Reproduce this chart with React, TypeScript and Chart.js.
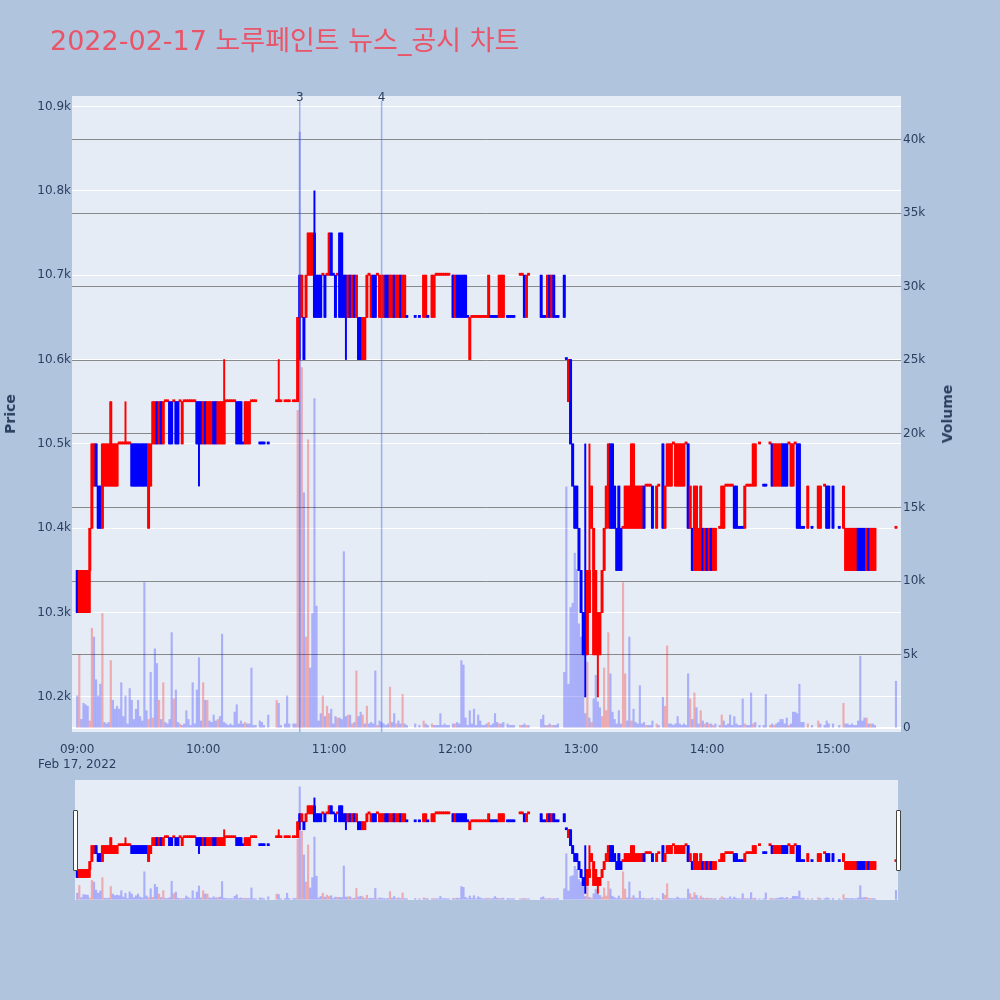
import React, { useEffect, useRef } from 'react';
import Chart from 'chart.js/auto';

type Row = [string, number, number, number, number, number]; // time, open, high, low, close, volume

const TITLE = '2022-02-17 노루페인트 뉴스_공시 차트';
const PRICE_TITLE = 'Price';
const VOLUME_TITLE = 'Volume';
const DATE_LABEL = 'Feb 17, 2022';

const SESSION_0900: Row[] = [
  ['09:00', 10350, 10350, 10300, 10300, 2200],
  ['09:01', 10300, 10350, 10300, 10350, 5000],
  ['09:02', 10300, 10350, 10300, 10350, 600],
  ['09:03', 10300, 10350, 10300, 10350, 1700],
  ['09:04', 10300, 10350, 10300, 10350, 1600],
  ['09:05', 10300, 10350, 10300, 10350, 1500],
  ['09:06', 10350, 10400, 10300, 10400, 500],
  ['09:07', 10400, 10500, 10400, 10500, 6800],
  ['09:08', 10450, 10500, 10450, 10500, 6200],
  ['09:09', 10500, 10500, 10450, 10450, 3300],
  ['09:10', 10450, 10450, 10400, 10400, 2200],
  ['09:11', 10450, 10450, 10400, 10400, 3000],
  ['09:12', 10400, 10500, 10400, 10500, 7800],
  ['09:13', 10450, 10500, 10450, 10500, 400],
  ['09:14', 10450, 10500, 10450, 10500, 300],
  ['09:15', 10450, 10500, 10450, 10500, 400],
  ['09:16', 10450, 10550, 10450, 10550, 4600],
  ['09:17', 10450, 10500, 10450, 10500, 1900],
  ['09:18', 10450, 10500, 10450, 10500, 1300],
  ['09:19', 10450, 10500, 10450, 10500, 1500],
  ['09:20', 10500, 10500, 10500, 10500, 1300],
  ['09:21', 10500, 10500, 10500, 10500, 3100],
  ['09:22', 10500, 10500, 10500, 10500, 800],
  ['09:23', 10500, 10550, 10500, 10500, 2200],
  ['09:24', 10500, 10500, 10500, 10500, 300],
  ['09:25', 10500, 10500, 10500, 10500, 2700],
  ['09:26', 10500, 10500, 10450, 10450, 1900],
  ['09:27', 10500, 10500, 10450, 10450, 600],
  ['09:28', 10500, 10500, 10450, 10450, 1300],
  ['09:29', 10500, 10500, 10450, 10450, 1900],
  ['09:30', 10500, 10500, 10450, 10450, 800],
  ['09:31', 10500, 10500, 10450, 10450, 500],
  ['09:32', 10500, 10500, 10450, 10450, 9900],
  ['09:33', 10500, 10500, 10450, 10450, 1200],
  ['09:34', 10400, 10500, 10400, 10500, 600],
  ['09:35', 10450, 10500, 10450, 10500, 3800],
  ['09:36', 10500, 10550, 10500, 10550, 700],
  ['09:37', 10500, 10550, 10500, 10550, 5400],
  ['09:38', 10550, 10550, 10500, 10500, 4400],
  ['09:39', 10500, 10550, 10500, 10550, 1900],
  ['09:40', 10550, 10550, 10500, 10500, 600],
  ['09:41', 10500, 10550, 10500, 10550, 3100],
  ['09:42', 10550, 10550, 10550, 10550, 400],
  ['09:43', 10550, 10550, 10550, 10550, 300],
  ['09:44', 10550, 10550, 10500, 10500, 600],
  ['09:45', 10550, 10550, 10500, 10500, 6500],
  ['09:46', 10550, 10550, 10550, 10550, 2000],
  ['09:47', 10550, 10550, 10500, 10500, 2600],
  ['09:48', 10550, 10550, 10500, 10500, 400],
  ['09:49', 10550, 10550, 10550, 10550, 300],
  ['09:50', 10500, 10550, 10500, 10550, 200],
  ['09:51', 10550, 10550, 10550, 10550, 300],
  ['09:52', 10550, 10550, 10550, 10550, 1200],
  ['09:53', 10550, 10550, 10550, 10550, 600],
  ['09:54', 10550, 10550, 10550, 10550, 200],
  ['09:55', 10550, 10550, 10550, 10550, 3100],
  ['09:56', 10550, 10550, 10550, 10550, 300],
  ['09:57', 10550, 10550, 10500, 10500, 2600],
  ['09:58', 10550, 10550, 10450, 10500, 4800],
  ['09:59', 10550, 10550, 10500, 10500, 500],
];

const SESSION_1000: Row[] = [
  ['10:00', 10500, 10550, 10500, 10550, 3100],
  ['10:01', 10550, 10550, 10500, 10500, 1900],
  ['10:02', 10500, 10550, 10500, 10550, 1900],
  ['10:03', 10500, 10550, 10500, 10550, 500],
  ['10:04', 10500, 10550, 10500, 10550, 400],
  ['10:05', 10550, 10550, 10500, 10500, 900],
  ['10:06', 10550, 10550, 10500, 10500, 500],
  ['10:07', 10500, 10550, 10500, 10550, 600],
  ['10:08', 10500, 10550, 10500, 10550, 800],
  ['10:09', 10500, 10550, 10500, 10550, 6400],
  ['10:10', 10500, 10600, 10500, 10550, 400],
  ['10:11', 10550, 10550, 10550, 10550, 300],
  ['10:12', 10550, 10550, 10550, 10550, 200],
  ['10:13', 10550, 10550, 10550, 10550, 300],
  ['10:14', 10550, 10550, 10550, 10550, 200],
  ['10:15', 10550, 10550, 10550, 10550, 1100],
  ['10:16', 10550, 10550, 10500, 10500, 1600],
  ['10:17', 10550, 10550, 10500, 10500, 300],
  ['10:18', 10550, 10550, 10500, 10500, 500],
  ['10:19', 10500, 10500, 10500, 10500, 300],
  ['10:20', 10500, 10550, 10500, 10550, 400],
  ['10:21', 10500, 10550, 10500, 10550, 300],
  ['10:22', 10500, 10550, 10500, 10550, 300],
  ['10:23', 10550, 10550, 10550, 10550, 4100],
  ['10:24', 10550, 10550, 10550, 10550, 200],
  ['10:25', 10550, 10550, 10550, 10550, 200],
  ['10:27', 10500, 10500, 10500, 10500, 500],
  ['10:28', 10500, 10500, 10500, 10500, 400],
  ['10:29', 10500, 10500, 10500, 10500, 200],
  ['10:31', 10500, 10500, 10500, 10500, 900],
  ['10:35', 10550, 10550, 10550, 10550, 1900],
  ['10:36', 10550, 10600, 10550, 10550, 1700],
  ['10:37', 10550, 10550, 10550, 10550, 200],
  ['10:39', 10550, 10550, 10550, 10550, 300],
  ['10:40', 10550, 10550, 10550, 10550, 2200],
  ['10:41', 10550, 10550, 10550, 10550, 300],
  ['10:43', 10550, 10550, 10550, 10550, 300],
  ['10:44', 10550, 10550, 10550, 10550, 300],
  ['10:45', 10550, 10650, 10550, 10650, 21600],
  ['10:46', 10700, 10700, 10600, 10650, 40500],
  ['10:47', 10650, 10700, 10650, 10700, 24500],
  ['10:48', 10650, 10650, 10600, 10600, 16000],
  ['10:49', 10650, 10700, 10650, 10700, 6200],
  ['10:50', 10700, 10750, 10700, 10750, 19600],
  ['10:51', 10700, 10750, 10700, 10750, 4100],
  ['10:52', 10700, 10750, 10700, 10750, 7800],
  ['10:53', 10750, 10800, 10650, 10650, 22400],
  ['10:54', 10700, 10700, 10650, 10650, 8300],
  ['10:55', 10700, 10700, 10650, 10650, 500],
  ['10:56', 10700, 10700, 10650, 10650, 1000],
  ['10:57', 10700, 10700, 10700, 10700, 2200],
  ['10:58', 10700, 10700, 10650, 10650, 800],
  ['10:59', 10700, 10700, 10700, 10700, 1500],
];

const SESSION_1100: Row[] = [
  ['11:00', 10700, 10750, 10700, 10750, 1000],
  ['11:01', 10750, 10750, 10700, 10700, 1300],
  ['11:02', 10700, 10700, 10700, 10700, 300],
  ['11:03', 10700, 10700, 10650, 10650, 800],
  ['11:04', 10700, 10700, 10700, 10700, 700],
  ['11:05', 10750, 10750, 10650, 10650, 700],
  ['11:06', 10750, 10750, 10650, 10650, 600],
  ['11:07', 10700, 10700, 10650, 10650, 12000],
  ['11:08', 10700, 10700, 10600, 10650, 800],
  ['11:09', 10650, 10700, 10650, 10700, 900],
  ['11:10', 10700, 10700, 10650, 10650, 900],
  ['11:11', 10650, 10700, 10650, 10700, 300],
  ['11:12', 10700, 10700, 10650, 10650, 400],
  ['11:13', 10650, 10700, 10650, 10700, 3900],
  ['11:14', 10650, 10650, 10600, 10600, 800],
  ['11:15', 10650, 10650, 10600, 10600, 1100],
  ['11:16', 10600, 10650, 10600, 10650, 900],
  ['11:17', 10600, 10650, 10600, 10650, 300],
  ['11:18', 10650, 10700, 10650, 10700, 1500],
  ['11:19', 10700, 10700, 10700, 10700, 300],
  ['11:20', 10650, 10700, 10650, 10700, 400],
  ['11:21', 10700, 10700, 10650, 10650, 300],
  ['11:22', 10700, 10700, 10650, 10650, 3900],
  ['11:23', 10700, 10700, 10700, 10700, 200],
  ['11:24', 10650, 10700, 10650, 10700, 500],
  ['11:25', 10650, 10700, 10650, 10700, 400],
  ['11:26', 10650, 10700, 10650, 10700, 300],
  ['11:27', 10700, 10700, 10650, 10650, 200],
  ['11:28', 10700, 10700, 10650, 10650, 300],
  ['11:29', 10650, 10700, 10650, 10700, 2800],
  ['11:30', 10650, 10700, 10650, 10700, 400],
  ['11:31', 10700, 10700, 10650, 10650, 1000],
  ['11:32', 10650, 10700, 10650, 10700, 300],
  ['11:33', 10650, 10700, 10650, 10700, 500],
  ['11:34', 10700, 10700, 10650, 10650, 300],
  ['11:35', 10650, 10700, 10650, 10700, 2300],
  ['11:36', 10650, 10700, 10650, 10700, 300],
  ['11:37', 10650, 10650, 10650, 10650, 200],
  ['11:41', 10650, 10650, 10650, 10650, 300],
  ['11:43', 10650, 10650, 10650, 10650, 200],
  ['11:45', 10650, 10700, 10650, 10700, 500],
  ['11:46', 10650, 10700, 10650, 10700, 300],
  ['11:47', 10650, 10650, 10650, 10650, 200],
  ['11:49', 10650, 10700, 10650, 10700, 300],
  ['11:50', 10650, 10700, 10650, 10700, 200],
  ['11:51', 10700, 10700, 10700, 10700, 200],
  ['11:52', 10700, 10700, 10700, 10700, 200],
  ['11:53', 10700, 10700, 10700, 10700, 1000],
  ['11:54', 10700, 10700, 10700, 10700, 200],
  ['11:55', 10700, 10700, 10700, 10700, 300],
  ['11:56', 10700, 10700, 10700, 10700, 200],
  ['11:57', 10700, 10700, 10700, 10700, 200],
  ['11:59', 10700, 10700, 10650, 10650, 300],
];

const SESSION_1200: Row[] = [
  ['12:00', 10650, 10700, 10650, 10700, 300],
  ['12:01', 10700, 10700, 10650, 10650, 400],
  ['12:02', 10700, 10700, 10650, 10650, 300],
  ['12:03', 10700, 10700, 10650, 10650, 4600],
  ['12:04', 10700, 10700, 10650, 10650, 4300],
  ['12:05', 10700, 10700, 10650, 10650, 700],
  ['12:06', 10650, 10650, 10650, 10650, 200],
  ['12:07', 10600, 10650, 10600, 10650, 1200],
  ['12:08', 10650, 10650, 10650, 10650, 300],
  ['12:09', 10650, 10650, 10650, 10650, 1300],
  ['12:10', 10650, 10650, 10650, 10650, 200],
  ['12:11', 10650, 10650, 10650, 10650, 900],
  ['12:12', 10650, 10650, 10650, 10650, 500],
  ['12:13', 10650, 10650, 10650, 10650, 200],
  ['12:14', 10650, 10650, 10650, 10650, 200],
  ['12:15', 10650, 10650, 10650, 10650, 300],
  ['12:16', 10650, 10700, 10650, 10700, 400],
  ['12:17', 10650, 10650, 10650, 10650, 200],
  ['12:18', 10650, 10650, 10650, 10650, 300],
  ['12:19', 10650, 10650, 10650, 10650, 1000],
  ['12:20', 10650, 10650, 10650, 10650, 400],
  ['12:21', 10650, 10700, 10650, 10700, 300],
  ['12:22', 10650, 10700, 10650, 10700, 300],
  ['12:23', 10650, 10700, 10650, 10700, 400],
  ['12:25', 10650, 10650, 10650, 10650, 300],
  ['12:26', 10650, 10650, 10650, 10650, 200],
  ['12:27', 10650, 10650, 10650, 10650, 200],
  ['12:28', 10650, 10650, 10650, 10650, 200],
  ['12:31', 10700, 10700, 10700, 10700, 200],
  ['12:32', 10700, 10700, 10700, 10700, 200],
  ['12:33', 10700, 10700, 10650, 10650, 300],
  ['12:34', 10650, 10700, 10650, 10700, 200],
  ['12:35', 10700, 10700, 10700, 10700, 200],
  ['12:41', 10700, 10700, 10650, 10650, 600],
  ['12:42', 10650, 10650, 10650, 10650, 900],
  ['12:43', 10650, 10650, 10650, 10650, 200],
  ['12:44', 10650, 10700, 10650, 10700, 200],
  ['12:45', 10700, 10700, 10650, 10650, 300],
  ['12:46', 10650, 10700, 10650, 10700, 200],
  ['12:47', 10700, 10700, 10650, 10650, 200],
  ['12:48', 10650, 10650, 10650, 10650, 200],
  ['12:49', 10650, 10650, 10650, 10650, 300],
  ['12:52', 10700, 10700, 10650, 10650, 3800],
  ['12:53', 10600, 10600, 10600, 10600, 16400],
  ['12:54', 10550, 10600, 10550, 10600, 3000],
  ['12:55', 10600, 10600, 10500, 10500, 8200],
  ['12:56', 10500, 10500, 10450, 10450, 8500],
  ['12:57', 10450, 10450, 10400, 10400, 11900],
  ['12:58', 10450, 10450, 10400, 10400, 10800],
  ['12:59', 10400, 10400, 10350, 10350, 7100],
];

const SESSION_1300: Row[] = [
  ['13:00', 10350, 10350, 10300, 10300, 6200],
  ['13:01', 10300, 10300, 10250, 10250, 5000],
  ['13:02', 10300, 10500, 10200, 10250, 1000],
  ['13:03', 10250, 10350, 10250, 10350, 4500],
  ['13:04', 10300, 10500, 10300, 10350, 700],
  ['13:05', 10400, 10450, 10400, 10450, 400],
  ['13:06', 10250, 10400, 10250, 10400, 2000],
  ['13:07', 10250, 10350, 10250, 10350, 3600],
  ['13:08', 10250, 10300, 10200, 10300, 1800],
  ['13:09', 10250, 10300, 10250, 10300, 1400],
  ['13:10', 10300, 10350, 10300, 10350, 800],
  ['13:11', 10350, 10400, 10350, 10400, 4100],
  ['13:12', 10400, 10450, 10400, 10450, 1200],
  ['13:13', 10450, 10500, 10400, 10500, 6500],
  ['13:14', 10500, 10500, 10400, 10400, 3700],
  ['13:15', 10500, 10500, 10400, 10400, 1100],
  ['13:16', 10450, 10450, 10400, 10400, 600],
  ['13:17', 10400, 10400, 10350, 10350, 300],
  ['13:18', 10450, 10450, 10350, 10350, 1200],
  ['13:19', 10400, 10400, 10350, 10350, 300],
  ['13:20', 10400, 10400, 10400, 10400, 9900],
  ['13:21', 10400, 10450, 10400, 10450, 3700],
  ['13:22', 10400, 10450, 10400, 10450, 500],
  ['13:23', 10400, 10450, 10400, 10450, 6200],
  ['13:24', 10400, 10500, 10400, 10500, 500],
  ['13:25', 10400, 10500, 10400, 10500, 1300],
  ['13:26', 10400, 10450, 10400, 10450, 400],
  ['13:27', 10400, 10450, 10400, 10450, 300],
  ['13:28', 10400, 10450, 10400, 10450, 2900],
  ['13:29', 10400, 10450, 10400, 10450, 300],
  ['13:30', 10450, 10450, 10400, 10400, 400],
  ['13:31', 10450, 10450, 10450, 10450, 200],
  ['13:32', 10450, 10450, 10450, 10450, 200],
  ['13:33', 10450, 10450, 10450, 10450, 200],
  ['13:34', 10450, 10450, 10400, 10400, 500],
  ['13:36', 10400, 10450, 10400, 10450, 300],
  ['13:37', 10450, 10450, 10450, 10450, 200],
  ['13:39', 10500, 10500, 10400, 10400, 2100],
  ['13:40', 10400, 10450, 10400, 10450, 1500],
  ['13:41', 10450, 10500, 10450, 10500, 5600],
  ['13:42', 10450, 10500, 10450, 10500, 300],
  ['13:43', 10450, 10500, 10450, 10500, 300],
  ['13:44', 10500, 10500, 10500, 10500, 200],
  ['13:45', 10450, 10500, 10450, 10500, 300],
  ['13:46', 10450, 10500, 10450, 10500, 800],
  ['13:47', 10450, 10500, 10450, 10500, 300],
  ['13:48', 10450, 10500, 10450, 10500, 200],
  ['13:49', 10450, 10500, 10450, 10500, 300],
  ['13:50', 10500, 10500, 10500, 10500, 200],
  ['13:51', 10500, 10500, 10400, 10400, 3700],
  ['13:52', 10400, 10450, 10400, 10450, 2000],
  ['13:53', 10400, 10400, 10350, 10350, 600],
  ['13:54', 10350, 10450, 10350, 10450, 2400],
  ['13:55', 10350, 10450, 10350, 10450, 1400],
  ['13:56', 10350, 10400, 10350, 10400, 300],
  ['13:57', 10350, 10450, 10350, 10450, 1200],
  ['13:58', 10400, 10400, 10350, 10350, 500],
  ['13:59', 10350, 10400, 10350, 10400, 300],
];

const SESSION_1400: Row[] = [
  ['14:00', 10400, 10400, 10350, 10350, 400],
  ['14:01', 10350, 10400, 10350, 10400, 300],
  ['14:02', 10400, 10400, 10350, 10350, 300],
  ['14:03', 10350, 10400, 10350, 10400, 200],
  ['14:04', 10350, 10400, 10350, 10400, 300],
  ['14:06', 10400, 10400, 10400, 10400, 200],
  ['14:07', 10400, 10450, 10400, 10450, 900],
  ['14:08', 10400, 10450, 10400, 10450, 500],
  ['14:09', 10450, 10450, 10450, 10450, 200],
  ['14:10', 10450, 10450, 10450, 10450, 300],
  ['14:11', 10450, 10450, 10450, 10450, 900],
  ['14:12', 10450, 10450, 10450, 10450, 200],
  ['14:13', 10450, 10450, 10400, 10400, 800],
  ['14:14', 10450, 10450, 10400, 10400, 300],
  ['14:15', 10400, 10400, 10400, 10400, 200],
  ['14:16', 10400, 10400, 10400, 10400, 200],
  ['14:17', 10400, 10400, 10400, 10400, 2000],
  ['14:18', 10400, 10450, 10400, 10450, 300],
  ['14:19', 10450, 10450, 10450, 10450, 200],
  ['14:20', 10450, 10450, 10450, 10450, 200],
  ['14:21', 10450, 10450, 10450, 10450, 2400],
  ['14:22', 10450, 10500, 10450, 10500, 300],
  ['14:23', 10450, 10500, 10450, 10500, 400],
  ['14:25', 10500, 10500, 10500, 10500, 200],
  ['14:27', 10450, 10450, 10450, 10450, 200],
  ['14:28', 10450, 10450, 10450, 10450, 2300],
  ['14:30', 10500, 10500, 10500, 10500, 200],
  ['14:31', 10500, 10500, 10450, 10450, 300],
  ['14:32', 10450, 10500, 10450, 10500, 200],
  ['14:33', 10450, 10500, 10450, 10500, 300],
  ['14:34', 10450, 10500, 10450, 10500, 400],
  ['14:35', 10450, 10500, 10450, 10500, 600],
  ['14:36', 10500, 10500, 10450, 10450, 600],
  ['14:37', 10500, 10500, 10450, 10450, 300],
  ['14:38', 10500, 10500, 10450, 10450, 700],
  ['14:39', 10500, 10500, 10500, 10500, 200],
  ['14:40', 10450, 10500, 10450, 10500, 300],
  ['14:41', 10450, 10500, 10450, 10500, 1100],
  ['14:42', 10500, 10500, 10500, 10500, 1100],
  ['14:43', 10500, 10500, 10400, 10400, 1000],
  ['14:44', 10500, 10500, 10400, 10400, 3000],
  ['14:45', 10400, 10400, 10400, 10400, 400],
  ['14:46', 10400, 10400, 10400, 10400, 400],
  ['14:48', 10400, 10450, 10400, 10450, 300],
  ['14:50', 10400, 10400, 10400, 10400, 200],
  ['14:53', 10400, 10450, 10400, 10450, 500],
  ['14:54', 10400, 10450, 10400, 10450, 300],
  ['14:56', 10450, 10450, 10450, 10450, 200],
  ['14:57', 10450, 10450, 10400, 10400, 500],
  ['14:58', 10450, 10450, 10400, 10400, 300],
];

const SESSION_1500: Row[] = [
  ['15:00', 10450, 10450, 10400, 10400, 300],
  ['15:03', 10400, 10400, 10400, 10400, 200],
  ['15:05', 10400, 10450, 10400, 10450, 1700],
  ['15:06', 10350, 10400, 10350, 10400, 300],
  ['15:07', 10350, 10400, 10350, 10400, 300],
  ['15:08', 10350, 10400, 10350, 10400, 200],
  ['15:09', 10350, 10400, 10350, 10400, 300],
  ['15:10', 10350, 10400, 10350, 10400, 200],
  ['15:11', 10350, 10400, 10350, 10400, 200],
  ['15:12', 10400, 10400, 10350, 10350, 500],
  ['15:13', 10400, 10400, 10350, 10350, 4900],
  ['15:14', 10400, 10400, 10350, 10350, 500],
  ['15:15', 10400, 10400, 10350, 10350, 700],
  ['15:16', 10350, 10400, 10350, 10400, 700],
  ['15:17', 10400, 10400, 10350, 10350, 300],
  ['15:18', 10350, 10400, 10350, 10400, 300],
  ['15:19', 10350, 10400, 10350, 10400, 300],
  ['15:20', 10350, 10400, 10350, 10400, 200],
  ['15:30', 10400, 10400, 10400, 10400, 3200],
];

const HOUR_TICKS = ['09:00', '10:00', '11:00', '12:00', '13:00', '14:00', '15:00'];
const PRICE_TICKS = [10200, 10300, 10400, 10500, 10600, 10700, 10800, 10900];
const VOLUME_TICKS = [0, 5000, 10000, 15000, 20000, 25000, 30000, 35000, 40000];
const EVENT_MARKERS = [
  { label: '3', time: '10:46' },
  { label: '4', time: '11:25' },
];

const PRICE_RANGE = [10158.5, 10912.4];
const VOLUME_RANGE = [-251, 42955];
const MAIN_X_RANGE = [-2.48, 392.4];
const SLIDER_X_RANGE = [-1.05, 390.97];

const INC = '#ff0000';
const DEC = '#0000ff';
const INC_VOL = 'rgba(255,0,0,0.28)';
const DEC_VOL = 'rgba(0,0,255,0.26)';
const PLOT_BG = '#e5ecf6';
const PAPER_BG = '#b0c4de';
const TEXT = '#2a3f5f';
const FONT = '"DejaVu Sans", "Noto Sans CJK KR", sans-serif';

const toMinute = (t: string) => {
  const [h, m] = t.split(':').map(Number);
  return (h - 9) * 60 + m;
};

// plotly rule: close vs open, ties resolved against the previous close
function candleDirections(rows: Row[]) {
  const out: string[] = [];
  let prevC = NaN;
  let prevD = 'inc';
  for (const r of rows) {
    const o = r[1];
    const c = r[4];
    let d: string;
    if (c > o) d = 'inc';
    else if (c < o) d = 'dec';
    else if (c > prevC) d = 'inc';
    else if (c < prevC) d = 'dec';
    else d = prevD;
    out.push(d);
    prevC = c;
    prevD = d;
  }
  return out;
}

// volume colour: up versus previous close -> red, otherwise blue
function volumeDirections(rows: Row[]) {
  let prevC = NaN;
  return rows.map((r) => {
    const d = r[4] > prevC ? 'inc' : 'dec';
    prevC = r[4];
    return d;
  });
}

function buildDatasets(rows: Row[]) {
  const dirs = candleDirections(rows);
  const vdirs = volumeDirections(rows);
  const solid = dirs.map((d) => (d === 'inc' ? INC : DEC));
  const faded = vdirs.map((d) => (d === 'inc' ? INC_VOL : DEC_VOL));
  return [
    {
      label: 'body',
      data: rows.map((r) => ({ x: toMinute(r[0]), y: [Math.min(r[1], r[4]), Math.max(r[1], r[4])] })),
      backgroundColor: solid,
      barThickness: 2.3,
      minBarLength: 2,
      grouped: false,
      yAxisID: 'y',
      order: 0,
    },
    {
      label: 'wick',
      data: rows.map((r) => ({ x: toMinute(r[0]), y: [r[3], r[2]] })),
      backgroundColor: solid,
      barThickness: 1.3,
      grouped: false,
      yAxisID: 'y',
      order: 1,
    },
    {
      label: 'volume',
      data: rows.map((r) => ({ x: toMinute(r[0]), y: r[5] })),
      backgroundColor: faded,
      barThickness: 1.5,
      grouped: false,
      yAxisID: 'yv',
      order: 2,
    },
  ];
}

const bgPlugin = {
  id: 'plotBg',
  beforeDraw(chart: any) {
    const { ctx, chartArea } = chart;
    ctx.save();
    ctx.fillStyle = PLOT_BG;
    ctx.fillRect(chartArea.left, chartArea.top, chartArea.right - chartArea.left, chartArea.bottom - chartArea.top);
    ctx.restore();
  },
};

const eventPlugin = {
  id: 'eventMarkers',
  afterDatasetsDraw(chart: any) {
    const { ctx, chartArea, scales } = chart;
    ctx.save();
    EVENT_MARKERS.forEach((e) => {
      const x = scales.x.getPixelForValue(toMinute(e.time));
      ctx.strokeStyle = 'rgba(65,105,225,0.45)';
      ctx.lineWidth = 1.5;
      ctx.beginPath();
      ctx.moveTo(x, chartArea.top + 5);
      ctx.lineTo(x, chartArea.bottom);
      ctx.stroke();
      ctx.fillStyle = TEXT;
      ctx.font = '12px "DejaVu Sans"';
      ctx.textAlign = 'center';
      ctx.textBaseline = 'alphabetic';
      ctx.fillText(e.label, x, chartArea.top + 5);
    });
    ctx.restore();
  },
};

const ALL_ROWS: Row[] = [
  ...SESSION_0900,
  ...SESSION_1000,
  ...SESSION_1100,
  ...SESSION_1200,
  ...SESSION_1300,
  ...SESSION_1400,
  ...SESSION_1500,
];

const tickFont = { family: FONT, size: 12 };

export default function App() {
  const mainRef = useRef<HTMLCanvasElement>(null);
  const sliderRef = useRef<HTMLCanvasElement>(null);

  useEffect(() => {
    const main = new Chart(mainRef.current as HTMLCanvasElement, {
      type: 'bar',
      data: { datasets: buildDatasets(ALL_ROWS) as any },
      options: {
        animation: false,
        responsive: false,
        maintainAspectRatio: false,
        events: [],
        layout: { padding: { top: 96, bottom: 228, left: 0, right: 0 } },
        plugins: { legend: { display: false }, tooltip: { enabled: false } },
        scales: {
          x: {
            type: 'linear',
            min: MAIN_X_RANGE[0],
            max: MAIN_X_RANGE[1],
            offset: false,
            grid: { display: false, offset: false },
            border: { display: false },
            afterBuildTicks: (s: any) => {
              s.ticks = HOUR_TICKS.map((t) => ({ value: toMinute(t) }));
            },
            afterFit: (s: any) => {
              s.height = 40;
            },
            ticks: {
              autoSkip: false,
              maxRotation: 0,
              minRotation: 0,
              padding: 3,
              color: TEXT,
              font: tickFont,
              callback: (v: any) => {
                const t = HOUR_TICKS.find((h) => toMinute(h) === v) || '';
                return v === 0 ? [t, DATE_LABEL] : t;
              },
            },
          },
          y: {
            type: 'linear',
            position: 'left',
            min: PRICE_RANGE[0],
            max: PRICE_RANGE[1],
            afterBuildTicks: (s: any) => {
              s.ticks = PRICE_TICKS.map((v) => ({ value: v }));
            },
            afterFit: (s: any) => {
              s.width = 72;
            },
            grid: { color: '#ffffff', lineWidth: 1, drawTicks: false },
            border: { display: false },
            ticks: {
              padding: 1,
              color: TEXT,
              font: tickFont,
              callback: (v: any) => (v / 1000).toFixed(1) + 'k',
            },
          },
          yv: {
            type: 'linear',
            position: 'right',
            min: VOLUME_RANGE[0],
            max: VOLUME_RANGE[1],
            afterBuildTicks: (s: any) => {
              s.ticks = VOLUME_TICKS.map((v) => ({ value: v }));
            },
            afterFit: (s: any) => {
              s.width = 99;
            },
            grid: {
              color: (ctx: any) => (ctx.tick && ctx.tick.value === 0 ? '#ffffff' : 'rgba(120,120,120,0.85)'),
              lineWidth: (ctx: any) => (ctx.tick && ctx.tick.value === 0 ? 2 : 1),
              drawTicks: false,
            },
            border: { display: false },
            ticks: {
              padding: 2,
              color: TEXT,
              font: tickFont,
              callback: (v: any) => (v === 0 ? '0' : v / 1000 + 'k'),
            },
          },
        },
      } as any,
      plugins: [bgPlugin, eventPlugin],
    });

    const slider = new Chart(sliderRef.current as HTMLCanvasElement, {
      type: 'bar',
      data: { datasets: buildDatasets(ALL_ROWS) as any },
      options: {
        animation: false,
        responsive: false,
        maintainAspectRatio: false,
        events: [],
        layout: { padding: 0 },
        plugins: { legend: { display: false }, tooltip: { enabled: false } },
        scales: {
          x: { type: 'linear', display: false, min: SLIDER_X_RANGE[0], max: SLIDER_X_RANGE[1], offset: false },
          y: { type: 'linear', display: false, min: PRICE_RANGE[0], max: PRICE_RANGE[1] },
          yv: { type: 'linear', display: false, min: VOLUME_RANGE[0], max: VOLUME_RANGE[1] },
        },
      } as any,
      plugins: [bgPlugin],
    });

    return () => {
      main.destroy();
      slider.destroy();
    };
  }, []);

  const handle: React.CSSProperties = {
    position: 'absolute',
    top: 810,
    width: 5,
    height: 61,
    background: '#ffffff',
    border: '1px solid #444444',
    boxSizing: 'border-box',
    borderRadius: 1,
  };

  return (
    <div
      style={{
        position: 'absolute',
        left: 0,
        top: 0,
        width: 1000,
        height: 1000,
        background: PAPER_BG,
        overflow: 'hidden',
        fontFamily: FONT,
      }}
    >
      <canvas ref={mainRef} width={1000} height={1000} style={{ position: 'absolute', left: 0, top: 0, width: 1000, height: 1000 }} />
      <canvas ref={sliderRef} width={823} height={120} style={{ position: 'absolute', left: 75, top: 780, width: 823, height: 120 }} />
      <div
        style={{
          position: 'absolute',
          left: 50,
          top: 27,
          fontSize: 27,
          lineHeight: '27px',
          color: '#ea5468',
          whiteSpace: 'nowrap',
        }}
      >
        {TITLE}
      </div>
      <div
        style={{
          position: 'absolute',
          left: 10,
          top: 414,
          transform: 'translate(-50%, -50%) rotate(-90deg)',
          fontSize: 14,
          lineHeight: '14px',
          fontWeight: 'bold',
          color: TEXT,
          whiteSpace: 'nowrap',
        }}
      >
        {PRICE_TITLE}
      </div>
      <div
        style={{
          position: 'absolute',
          left: 947,
          top: 414,
          transform: 'translate(-50%, -50%) rotate(-90deg)',
          fontSize: 14,
          lineHeight: '14px',
          fontWeight: 'bold',
          color: TEXT,
          whiteSpace: 'nowrap',
        }}
      >
        {VOLUME_TITLE}
      </div>
      <div style={{ ...handle, left: 73 }} />
      <div style={{ ...handle, left: 896 }} />
    </div>
  );
}
